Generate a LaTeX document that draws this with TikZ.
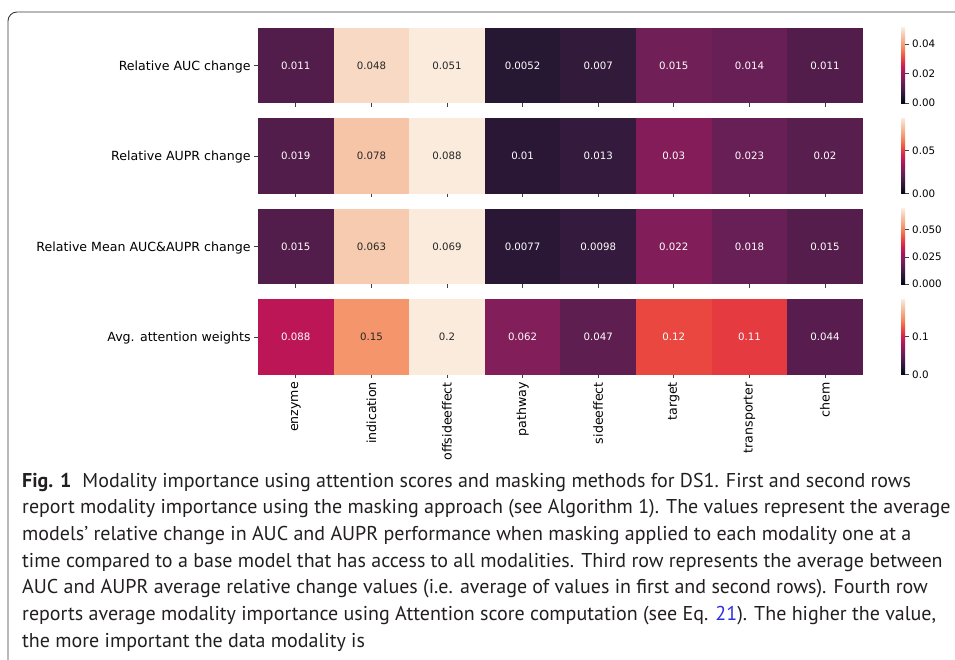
\documentclass[tikz,border=0pt]{standalone}
\usepackage{fontspec}
\setmainfont{PT Sans}
\newfontfamily\dejavu{DejaVu Sans}
\usetikzlibrary{positioning}

\definecolor{darktxt}{HTML}{262626}
\definecolor{captxt}{HTML}{231F20}
\definecolor{reflink}{RGB}{45,45,230}
\definecolor{framegray}{HTML}{3A3A3A}
\definecolor{rk0}{HTML}{03051A}
\definecolor{rk1}{HTML}{261733}
\definecolor{rk2}{HTML}{4C1D4A}
\definecolor{rk3}{HTML}{731F58}
\definecolor{rk4}{HTML}{A3185B}
\definecolor{rk5}{HTML}{CF2050}
\definecolor{rk6}{HTML}{EA4740}
\definecolor{rk7}{HTML}{F27A55}
\definecolor{rk8}{HTML}{F5A47E}
\definecolor{rk9}{HTML}{F6C6AA}
\definecolor{rk10}{HTML}{FAEBDD}
\pgfdeclareverticalshading{rocket}{100bp}{color(0bp)=(rk0); color(25bp)=(rk0); color(30bp)=(rk1); color(35bp)=(rk2); color(40bp)=(rk3); color(45bp)=(rk4); color(50bp)=(rk5); color(55bp)=(rk6); color(60bp)=(rk7); color(65bp)=(rk8); color(70bp)=(rk9); color(75bp)=(rk10); color(100bp)=(rk10)}

\begin{document}
\begin{tikzpicture}[x=1pt, y=-1pt,
        cell/.style={rectangle, inner sep=0, minimum width=75.6pt, minimum height=75.5pt, font=\dejavu\fontsize{10.2}{12}\selectfont},
        rowlab/.style={anchor=base east, inner sep=0, font=\dejavu\fontsize{12.6}{14}\selectfont},
        collab/.style={anchor=east, rotate=90, inner sep=0, font=\dejavu\fontsize{12.6}{14}\selectfont},
        cbar/.style={rectangle, inner sep=0, minimum width=4pt, minimum height=75.5pt, shading=rocket},
        cbtext/.style={anchor=west, inner sep=0, font=\dejavu\fontsize{10.3}{12}\selectfont},
        tick/.style={draw=black!75, line width=0.8pt},
        capline/.style={anchor=base west, inner sep=0, text=captxt, font=\fontsize{20}{26}\selectfont}
    ]
    \useasboundingbox (0,0) rectangle (955,660);
    \draw[framegray, line width=0.9pt, rounded corners=9pt] (8,660) -- (8,12) -- (955,12);

    % heatmap rows
    \foreach \v/\hx/\tc [count=\i] in {0.011/521D4A/white, 0.048/F7D9C4/darktxt, 0.051/FAEBDD/darktxt, 0.0052/261733/white, 0.007/311A3A/white, 0.015/701F57/white, 0.014/681F55/white, 0.011/521D4A/white} {
        \definecolor{cellc}{HTML}{\hx}
        \node[cell, fill=cellc, text=\tc] (r1c\i) at ({258+75.6*(\i-0.5)}, 65.5) {\v};
        \draw[tick] (r1c\i.south) -- ++(0,3.5);
    }
    \foreach \v/\hx/\tc [count=\i] in {0.019/521D4A/white, 0.078/F6C5A8/darktxt, 0.088/FAEBDD/darktxt, 0.01/2A1735/white, 0.013/341A3C/white, 0.03/851C5A/white, 0.023/681F55/white, 0.02/581E4E/white} {
        \definecolor{cellc}{HTML}{\hx}
        \node[cell, fill=cellc, text=\tc] (r2c\i) at ({258+75.6*(\i-0.5)}, 156) {\v};
        \draw[tick] (r2c\i.south) -- ++(0,3.5);
    }
    \foreach \v/\hx/\tc [count=\i] in {0.015/521D4A/white, 0.063/F6CBAF/darktxt, 0.069/FAEBDD/darktxt, 0.0077/2A1735/white, 0.0098/341A3C/white, 0.022/811E5A/white, 0.018/681F55/white, 0.015/541D4B/white} {
        \definecolor{cellc}{HTML}{\hx}
        \node[cell, fill=cellc, text=\tc] (r3c\i) at ({258+75.6*(\i-0.5)}, 246.5) {\v};
        \draw[tick] (r3c\i.south) -- ++(0,3.5);
    }
    \foreach \v/\hx/\tc/\lab [count=\i] in {0.088/BC1656/white/enzyme, 0.15/F4956B/darktxt/indication, 0.2/FAEBDD/darktxt/offsideeffect, 0.062/821E5A/white/pathway, 0.047/5E1E50/white/sideeffect, 0.12/EA4740/white/target, 0.11/E53A3F/white/transporter, 0.044/581D4E/white/chem} {
        \definecolor{cellc}{HTML}{\hx}
        \node[cell, fill=cellc, text=\tc] (r4c\i) at ({258+75.6*(\i-0.5)}, 337) {\v};
        \draw[tick] (r4c\i.south) -- ++(0,3.5) coordinate (xt\i);
        \node[collab] (lab\i) at ([yshift=-3.5pt]xt\i) {\lab};
    }

    % row labels
    \foreach \r/\txt in {1/Relative AUC change, 2/Relative AUPR change, 3/Relative Mean AUC\&AUPR change, 4/Avg. attention weights} {
        \draw[tick] (r\r c1.west) -- ++(-3.5,0) coordinate (yt\r);
        \node[rowlab] (rl\r) at ([xshift=-3.5pt, yshift=-4.6pt]yt\r) {\txt};
    }

    % colour bars
    \node[cbar] (cb1) at (903, 65.5) {};
    \node[cbar] (cb2) at (903, 156) {};
    \node[cbar] (cb3) at (903, 246.5) {};
    \node[cbar] (cb4) at (903, 337) {};
    \foreach \y/\txt [count=\k] in {103.25/0.00, 73.6/0.02, 44.2/0.04, 193.75/0.00, 150.8/0.05, 284.25/0.000, 257.1/0.025, 229.9/0.050, 374.75/0.0, 336.4/0.1} {
        \draw[tick] (905,\y) -- ++(3.5,0) coordinate (ct\k);
        \node[cbtext] (cl\k) at ([xshift=3.5pt]ct\k) {\txt};
    }

    % caption
    \node[capline] (cap1) at (22,487) {\textbf{Fig. 1}\hspace{0.55em}Modality importance using attention scores and masking methods for DS1. First and second rows};
    \node[capline] (cap2) at (22,513.7) {report modality importance using the masking approach (see Algorithm 1). The values represent the average};
    \node[capline] (cap3) at (22,540.4) {models’ relative change in AUC and AUPR performance when masking applied to each modality one at a};
    \node[capline] (cap4) at (22,567.1) {time compared to a base model that has access to all modalities. Third row represents the average between};
    \node[capline] (cap5) at (22,593.8) {AUC and AUPR average relative change values (i.e. average of values in first and second rows). Fourth row};
    \node[capline] (cap6) at (22,620.5) {reports average modality importance using Attention score computation (see Eq. \textcolor{reflink}{21}). The higher the value,};
    \node[capline] (cap7) at (22,647.2) {the more important the data modality is};
\end{tikzpicture}
\end{document}
